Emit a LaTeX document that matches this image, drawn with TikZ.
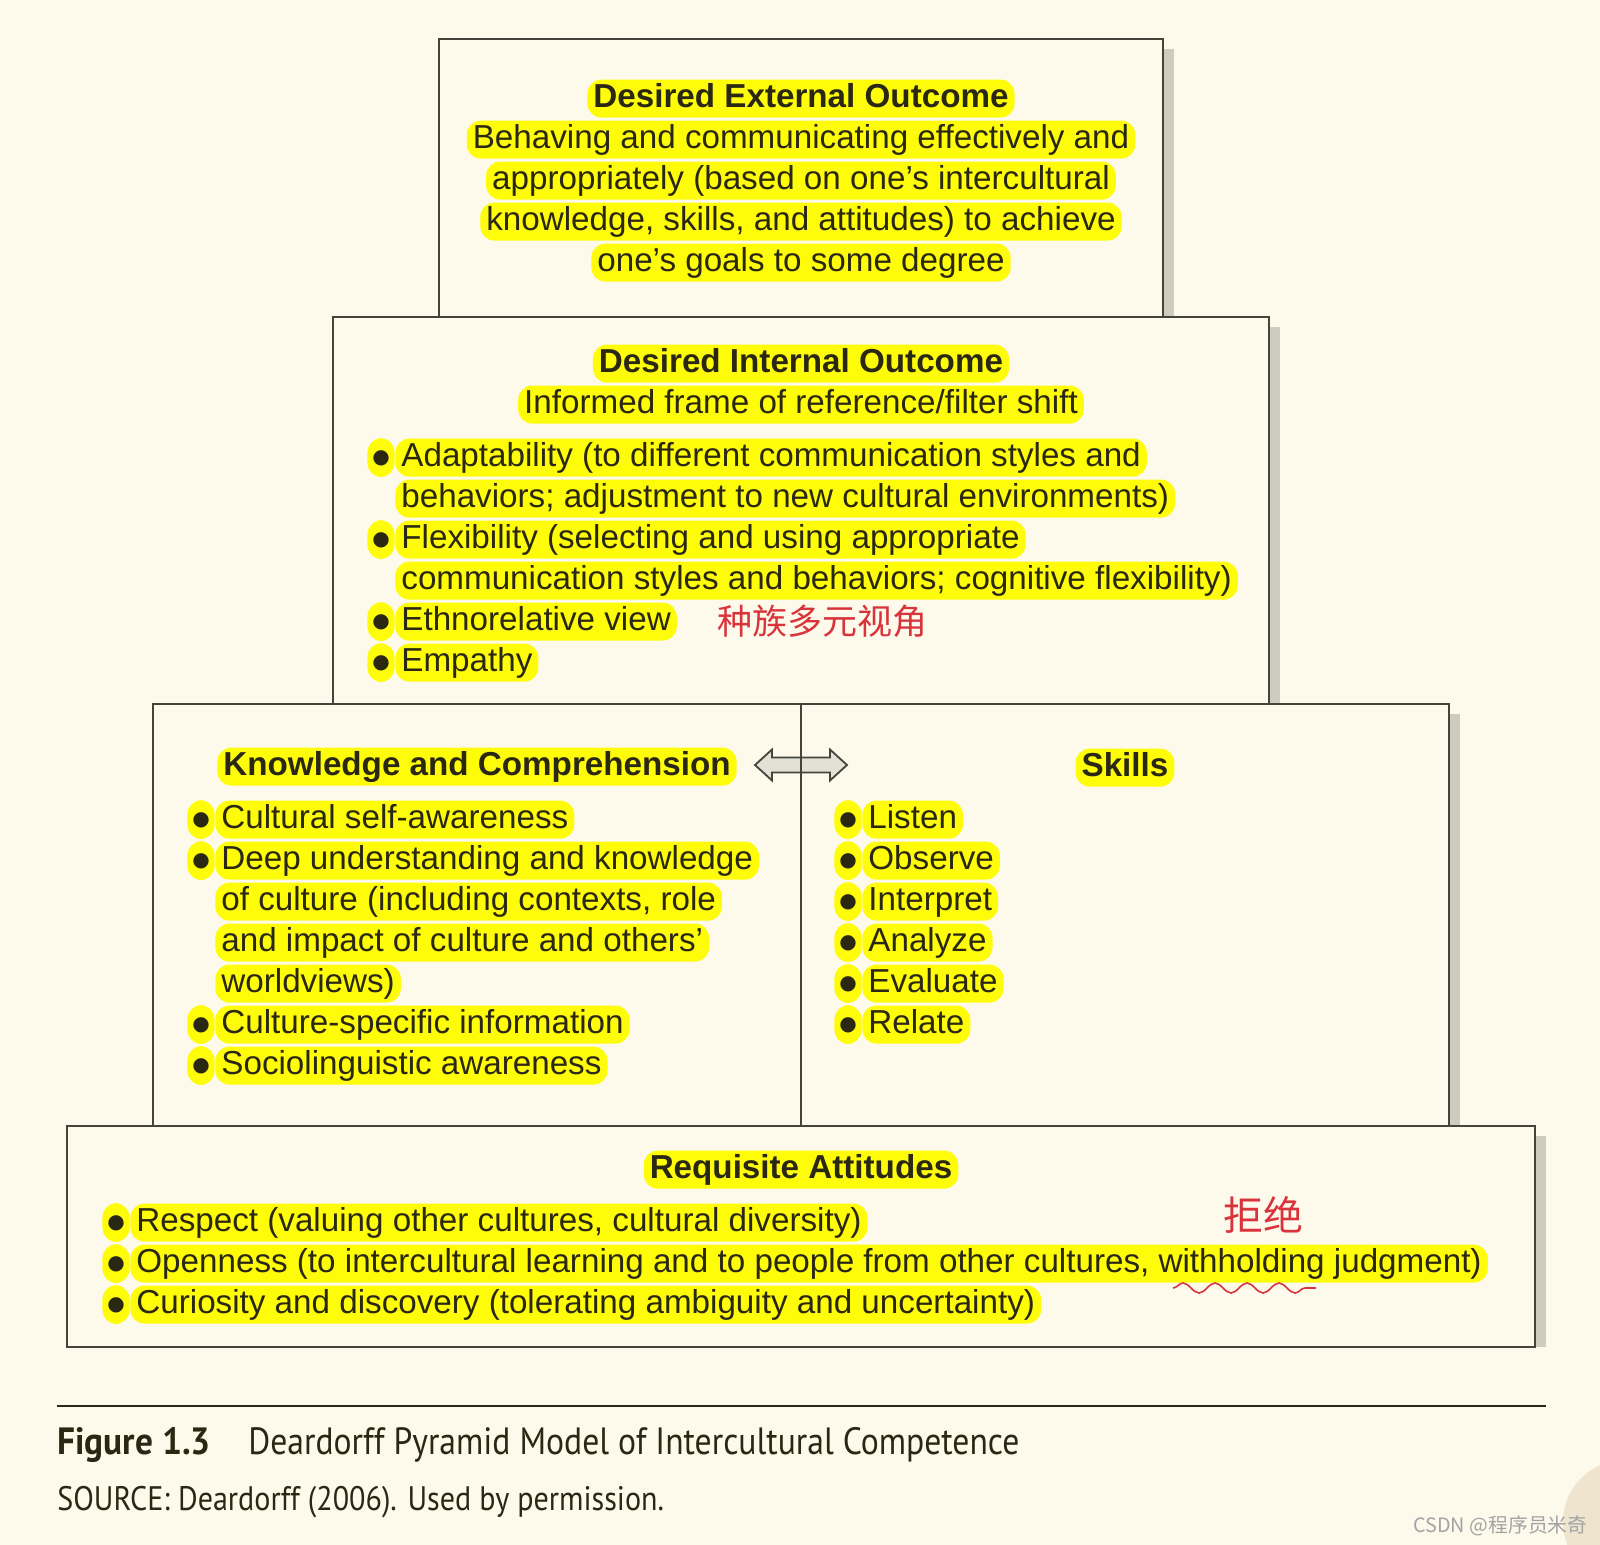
\documentclass[tikz,border=0pt]{standalone}
\usepackage{fontspec}
\usepackage{graphicx}
\setmainfont{Liberation Sans}
\newfontfamily\capfont{PT Sans}
\newfontfamily\cjkfont{Noto Sans CJK SC}
\newfontfamily\dotfont{DejaVu Sans}
\usetikzlibrary{calc, decorations.pathmorphing}
\definecolor{paper}{HTML}{FDFAEC}
\definecolor{hlyellow}{HTML}{FFFC0A}
\definecolor{inkdark}{HTML}{2A2812}
\definecolor{frame}{HTML}{45443A}
\definecolor{shadowgray}{HTML}{CECCBF}
\definecolor{arrowfill}{HTML}{E2E1D6}
\definecolor{penred}{HTML}{D9333B}
\definecolor{markgray}{HTML}{A3A3A3}
\definecolor{curlbeige}{HTML}{EFE5CF}
\newcommand{\bodysize}{\fontsize{16.6}{20}\selectfont}
\newcommand{\bigdot}{\raisebox{1.2pt}{\dotfont\fontsize{10}{10}\selectfont ●}}

\begin{document}
\begin{tikzpicture}[x=0.5pt, y=-0.5pt,
  box/.style={draw=frame, line width=1pt, fill=paper},
  hl/.style={fill=hlyellow, rounded corners=7pt, inner xsep=3pt, inner ysep=0pt,
    text height=14pt, text depth=5pt, text=inkdark, font=\bodysize, yshift=-1.8pt},
  hlbold/.style={hl, font=\bodysize\bfseries},
  hlline/.style={hl, anchor=west},
  hldot/.style={hl, inner xsep=2.4pt, text height=14pt, text depth=5.4pt}]

% Background
\useasboundingbox[fill=paper] (0,0) rectangle (1600,1545);
\fill[curlbeige] (1625,1522) circle (62);

% Shadows (right side only)
\fill[shadowgray] (1164,49) rectangle (1174,317);
\fill[shadowgray] (1270,327) rectangle (1280,704);
\fill[shadowgray] (1450,714) rectangle (1460,1126);
\fill[shadowgray] (1536,1136) rectangle (1546,1347);

% Boxes of the pyramid
\draw[box] (439,39) rectangle (1163,317);
\draw[box] (333,317) rectangle (1269,704);
\draw[box] (153,704) rectangle (1449,1126);
\draw[box] (67,1126) rectangle (1535,1347);

% Desired external outcome
\node[hlbold] (ext-title) at (801,95) {Desired External Outcome};
\foreach \txt [count=\i] in {Behaving and communicating effectively and,
    appropriately (based on one’s intercultural,
    {knowledge, skills, and attitudes) to achieve},
    one’s goals to some degree}
  \node[hl] (ext\i) at (801,{95+41*\i}) {\txt};

% Desired internal outcome
\node[hlbold] (int-title) at (801,360) {Desired Internal Outcome};
\node[hl] (int-sub) at (801,401) {Informed frame of reference/filter shift};
\foreach \txt/\b [count=\i from 0] in {Adaptability (to different communication styles and/1,
    behaviors; adjustment to new cultural environments)/0,
    Flexibility (selecting and using appropriate/1,
    communication styles and behaviors; cognitive flexibility)/0,
    Ethnorelative view/1, Empathy/1} {
  \ifnum\b=1 \node[hldot] (int-dot\i) at (381,{454+41*\i}) {\bigdot}; \fi
  \node[hlline] (int\i) at (395,{454+41*\i}) {\txt};
}
\node[anchor=west, text=penred, font=\cjkfont\fontsize{17.5}{18}\selectfont]
  (int-note) at (710,621) {种族多元视角};

% Knowledge and comprehension
\node[hlbold, anchor=west] (know-title) at (217,763) {Knowledge and Comprehension};
\foreach \txt/\b [count=\i from 0] in {Cultural self-awareness/1,
    Deep understanding and knowledge/1,
    {of culture (including contexts, role}/0,
    and impact of culture and others’/0,
    worldviews)/0,
    Culture-specific information/1,
    Sociolinguistic awareness/1} {
  \ifnum\b=1 \node[hldot] (know-dot\i) at (201,{816+41*\i}) {\bigdot}; \fi
  \node[hlline] (know\i) at (215,{816+41*\i}) {\txt};
}

% Skills
\node[hlbold] (skill-title) at (1125,764) {Skills};
\foreach \txt [count=\i from 0] in {Listen, Observe, Interpret, Analyze, Evaluate, Relate} {
  \node[hldot] (skill-dot\i) at (848,{816+41*\i}) {\bigdot};
  \node[hlline] (skill\i) at (862,{816+41*\i}) {\txt};
}

% Two-way arrow between the two halves
\coordinate (swap) at (801,765);
\draw[frame, line width=0.9pt, fill=arrowfill]
  ($(swap)+(-46,0)$) -- ++(17,-15.5) -- ++(0,8) -- ++(58,0) -- ++(0,-8)
  -- ($(swap)+(46,0)$) -- ++(-17,15.5) -- ++(0,-8) -- ++(-58,0) -- ++(0,8) -- cycle;
\draw[frame, line width=1pt] (801,704) -- (801,1126);

% Requisite attitudes
\node[hlbold] (att-title) at (801,1166) {Requisite Attitudes};
\foreach \txt [count=\i from 0] in {{Respect (valuing other cultures, cultural diversity)},
    {Openness (to intercultural learning and to people from other cultures, withholding judgment)},
    Curiosity and discovery (tolerating ambiguity and uncertainty)} {
  \node[hldot] (att-dot\i) at (116,{1219+41*\i}) {\bigdot};
  \node[hlline] (att\i) at (130,{1219+41*\i}) {\txt};
}
\node[anchor=west, text=penred, font=\cjkfont\fontsize{20}{22}\selectfont]
  (att-note) at (1216,1215) {拒绝};
\draw[penred, line width=0.8pt, decorate,
      decoration={snake, amplitude=2.5pt, segment length=16pt}]
  (1173,1288) -- (1316,1288);

% Caption
\draw[inkdark, line width=1pt] (57,1406) -- (1546,1406);
\node[anchor=west, inner sep=0pt, text=inkdark, font=\capfont\bfseries\fontsize{19}{22}\selectfont]
  (fig-label) at (57,1445) {\scalebox{0.93}[1]{Figure 1.3}};
\node[anchor=west, inner sep=0pt, text=inkdark, font=\capfont\fontsize{19}{22}\selectfont]
  (fig-title) at (248,1445) {\scalebox{0.885}[1]{Deardorff Pyramid Model of Intercultural Competence}};
\node[anchor=west, inner sep=0pt, text=inkdark, font=\capfont\fontsize{17}{19}\selectfont]
  (fig-source) at (57,1502) {\scalebox{0.885}[1]{SOURCE: Deardorff (2006). Used by permission.}};

% Watermark
\node[anchor=west, inner sep=0pt, text=markgray, font=\cjkfont\fontsize{9.9}{12}\selectfont]
  (mark) at (1413,1526) {CSDN @程序员米奇};

\end{tikzpicture}
\end{document}
